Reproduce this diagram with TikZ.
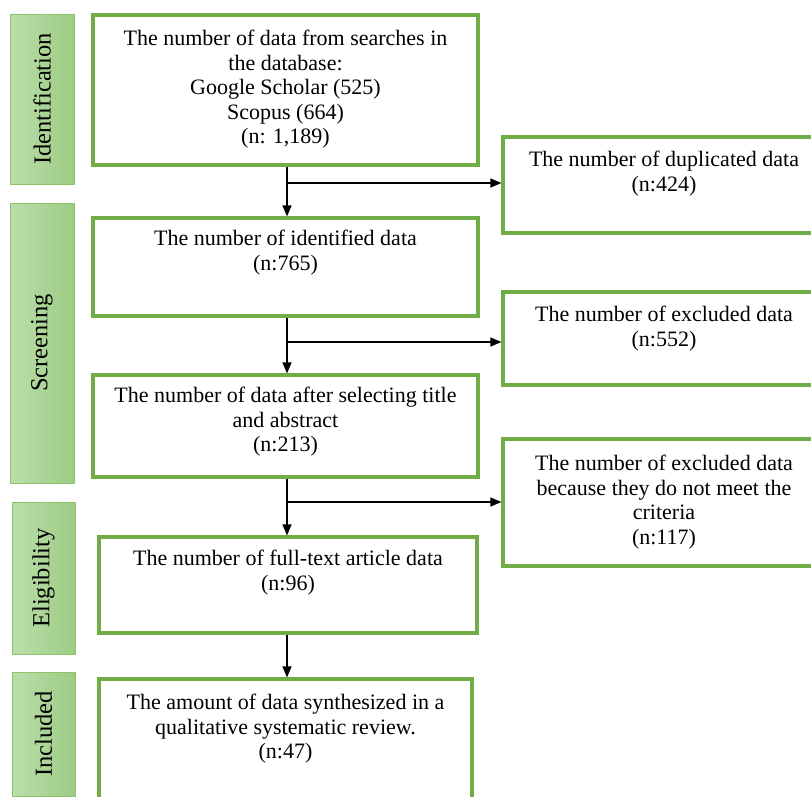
\documentclass[tikz,border=0pt]{standalone}
\usepackage{graphicx}
\usepackage{fontspec}
\setmainfont{Liberation Serif}
\usetikzlibrary{positioning, arrows.meta, calc}
\definecolor{boxgreen}{RGB}{112,173,71}
\definecolor{tabgreenL}{RGB}{188,222,170}
\definecolor{tabgreenR}{RGB}{156,204,132}
\definecolor{tabedge}{RGB}{140,196,110}
% box text: width, height, top gap, text
\newcommand{\boxtext}[4]{\parbox[c][#2][t]{#1}{\centering\vspace*{#3}#4\par}}

\begin{document}
\begin{tikzpicture}[x=1pt, y=-1pt, >={Triangle[length=11pt, width=9pt]},
	flowbox/.style={draw=boxgreen, line width=3.2pt, inner sep=0pt, font=\fontsize{22}{24.6}\selectfont},
	phase/.style={draw=tabedge, line width=0.9pt, left color=tabgreenL, right color=tabgreenR, inner sep=0pt, font=\fontsize{24.5}{28}\selectfont},
	link/.style={->, line width=1.3pt}]
		\useasboundingbox (0,0) rectangle (811,796);
		\clip (0,0) rectangle (811,796);
		% phases
		\node[phase, minimum width=64pt, minimum height=170pt] (tabid) at (42,99) {\rotatebox{90}{Identification}};
		\node[phase, minimum width=64pt, minimum height=280pt] (tabscr) at (42,343) {\rotatebox{90}{Screening}};
		\node[phase, minimum width=63pt, minimum height=152pt] (tabel) at (43.5,578) {\rotatebox{90}{Eligibility}};
		\node[phase, minimum width=63pt, minimum height=124pt] (tabinc) at (43.5,734) {\rotatebox{90}{Included}};
		% main column
		\node[flowbox] (src) at (285.5,90) {\boxtext{385pt}{150pt}{15pt}{The number of data from searches in\\the database:\\Google Scholar (525)\\Scopus (664)\\(n: 1,189)}};
		\node[flowbox] (idd) at (285.5,267) {\boxtext{385pt}{98pt}{12pt}{The number of identified data\\(n:765)}};
		\node[flowbox] (sel) at (285.5,426) {\boxtext{385pt}{102pt}{12pt}{The number of data after selecting title\\and abstract\\(n:213)}};
		\node[flowbox] (full) at (288,585) {\boxtext{378pt}{96pt}{13pt}{The number of full-text article data\\(n:96)}};
		\node[flowbox] (syn) at (285.5,744) {\boxtext{373pt}{130pt}{15pt}{The amount of data synthesized in a\\qualitative systematic review.\\(n:47)}};
		% excluded column
		\node[flowbox] (dup) at (664,185) {\boxtext{322pt}{96pt}{14pt}{The number of duplicated data\\(n:424)}};
		\node[flowbox] (excl) at (664,338.5) {\boxtext{322pt}{93pt}{14pt}{The number of excluded data\\(n:552)}};
		\node[flowbox] (crit) at (664,502.5) {\boxtext{322pt}{127pt}{16pt}{The number of excluded data\\because they do not meet the\\criteria\\(n:117)}};
		% connectors
		\coordinate (b1) at (287,183);
		\coordinate (b2) at (287,342);
		\coordinate (b3) at (287,502);
		\draw[link] (src.south -| b1) -- (idd.north -| b1);
		\draw[link] (idd.south -| b2) -- (sel.north -| b2);
		\draw[link] (sel.south -| b3) -- (full.north -| b3);
		\draw[link] (full.south -| b3) -- (syn.north -| b3);
		\draw[link] (b1) -- (b1 -| dup.west);
		\draw[link] (b2) -- (b2 -| excl.west);
		\draw[link] (b3) -- (b3 -| crit.west);
	\end{tikzpicture}
\end{document}
